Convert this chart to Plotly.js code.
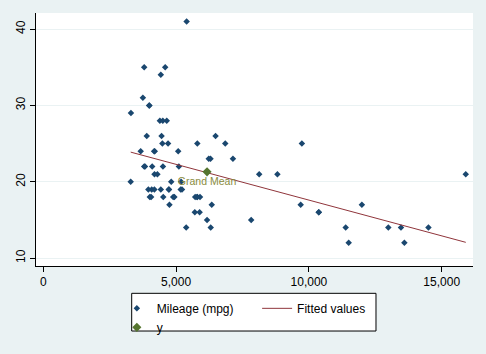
<!DOCTYPE html>
<html>
<head>
<meta charset="utf-8">
<script src="https://cdn.plot.ly/plotly-3.0.1.min.js"></script>
<style>html,body{margin:0;padding:0;background:#EAF2F3;}#chart{width:486px;height:354px;}</style>
</head>
<body>
<div id="chart"></div>
<script>
// Stata auto dataset: price (USD) and mileage (mpg)
var price = [4099,4749,3799,4816,7827,5788,4453,5189,10372,4082,11385,14500,15906,3299,5705,4504,5104,3667,3955,3984,4010,5886,6342,4389,4187,11497,13594,13466,3829,5379,6165,4516,6303,3291,8814,5172,4733,4890,4181,4195,10371,4647,4425,4482,6486,4060,5798,4934,5222,4723,4424,4172,9690,6295,9735,6229,4589,5079,8129,4296,5799,4499,3995,12990,3895,3798,5899,3748,5719,7140,5397,4697,6850,11995];
var mpg = [22,17,22,20,15,18,26,20,16,19,14,14,21,29,16,22,22,24,19,30,18,16,17,28,21,12,12,14,22,14,15,18,14,20,21,19,19,18,19,24,16,28,34,25,26,18,18,18,19,19,19,24,17,23,25,23,35,24,21,21,25,28,30,14,26,35,18,31,18,23,41,25,25,17];
// Fitted values (linear fit endpoints)
var fitPrice = [3291, 15906];
var fitMpg = [23.88, 12.07];
// Grand mean point
var meanPrice = [6165];
var meanMpg = [21.3];
var meanLabel = ['Grand Mean'];
var xTicks = [0, 5000, 10000, 15000];
var yTicks = [10, 20, 30, 40];

var font = {family: 'Liberation Sans, Arial, sans-serif', size: 12, color: '#000'};

var traces = [
  {x: price, y: mpg, type: 'scatter', mode: 'markers', name: 'Mileage (mpg)',
   marker: {symbol: 'diamond', size: 5, color: '#1A476F'}, legend: 'legend'},
  {x: fitPrice, y: fitMpg, type: 'scatter', mode: 'lines', name: 'Fitted values',
   line: {color: '#90353B', width: 1}, legend: 'legend2'},
  {x: meanPrice, y: meanMpg, type: 'scatter', mode: 'markers+text', name: 'y',
   text: meanLabel, textposition: 'bottom center',
   textfont: {family: 'Liberation Sans, Arial, sans-serif', size: 10.5, color: '#8a8c3e'},
   marker: {symbol: 'diamond', size: 7, color: '#55752F'}, legend: 'legend'}
];

var layout = {
  width: 486, height: 354,
  margin: {l: 36, r: 13, t: 13, b: 84, pad: 0},
  paper_bgcolor: '#EAF2F3',
  plot_bgcolor: '#FFFFFF',
  font: font,
  separators: '.,',
  showlegend: true,
  xaxis: {
    range: [-275, 16178], tickvals: xTicks, tickformat: ',d',
    showgrid: false, zeroline: false, showline: true, linecolor: '#000', linewidth: 1,
    ticks: 'outside', ticklen: 5, tickcolor: '#000', tickwidth: 1,
    tickfont: font, mirror: false
  },
  yaxis: {
    range: [8.97, 42.1], tickvals: yTicks, tickangle: -90,
    showgrid: true, gridcolor: '#EAF2F3', gridwidth: 1, zeroline: false,
    showline: true, linecolor: '#000', linewidth: 1,
    ticks: 'outside', ticklen: 5, tickcolor: '#000', tickwidth: 1,
    tickfont: font, mirror: false
  },
  legend: {
    x: 0.185, xanchor: 'left', y: -0.11, yanchor: 'top', orientation: 'v',
    bgcolor: 'rgba(0,0,0,0)', borderwidth: 0, font: font, tracegroupgap: 0
  },
  legend2: {
    x: 0.506, xanchor: 'left', y: -0.11, yanchor: 'top', orientation: 'v',
    bgcolor: 'rgba(0,0,0,0)', borderwidth: 0, font: font
  },
  shapes: [
    {type: 'rect', xref: 'paper', yref: 'paper', x0: 0.219, x1: 0.778, y0: -0.108, y1: -0.257,
     line: {color: '#000', width: 1}, fillcolor: '#FFFFFF', layer: 'below'}
  ]
};

Plotly.newPlot('chart', traces, layout, {displayModeBar: false, staticPlot: true});
</script>
</body>
</html>
